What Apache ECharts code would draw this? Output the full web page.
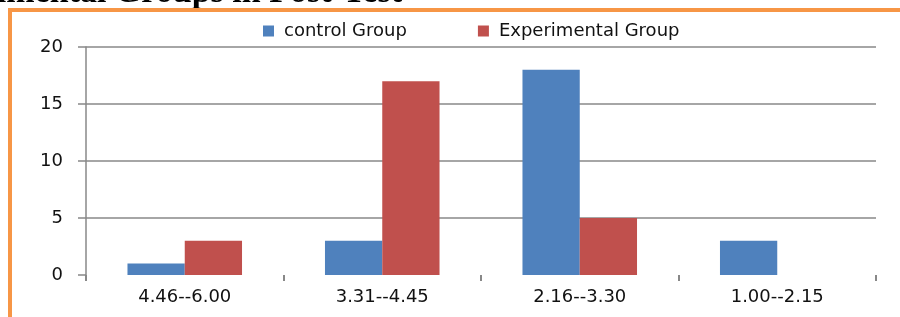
<!DOCTYPE html>
<html>
<head>
<meta charset="utf-8">
<script src="https://cdn.jsdelivr.net/npm/echarts@6/dist/echarts.min.js"></script>
<style>
  html, body { margin: 0; padding: 0; background: #fff; }
  #chart { width: 900px; height: 317px; }
</style>
</head>
<body>
<div id="chart"></div>
<script>
// score ranges (categories)
var categories = ['4.46--6.00', '3.31--4.45', '2.16--3.30', '1.00--2.15'];
// number of students in each range
var controlGroup = [1, 3, 18, 3];
var experimentalGroup = [3, 17, 5, 0];
var yTicks = [0, 5, 10, 15, 20];

var chart = echarts.init(document.getElementById('chart'));

var labelFont = {
  fontFamily: 'DejaVu Sans',
  fontSize: 18,
  color: '#111'
};

var option = {
  animation: false,
  backgroundColor: '#fff',
  color: ['#4F81BD', '#C0504D'],
  legend: {
    left: 263,
    top: 22,
    padding: 0,
    icon: 'rect',
    itemWidth: 11,
    itemHeight: 11,
    itemGap: 71,
    textStyle: {
      fontFamily: 'DejaVu Sans',
      fontSize: 18,
      color: '#111',
      padding: [0, 0, 0, 5]
    },
    data: ['control Group', 'Experimental Group']
  },
  grid: {
    left: 86,
    right: 24,
    top: 47,
    bottom: 42
  },
  xAxis: {
    type: 'category',
    data: categories,
    axisLine: { show: false },
    axisTick: {
      show: true,
      length: 6,
      lineStyle: { color: '#888', width: 2 }
    },
    axisLabel: Object.assign({ margin: 13 }, labelFont)
  },
  yAxis: {
    type: 'value',
    min: yTicks[0],
    max: yTicks[yTicks.length - 1],
    interval: 5,
    axisLine: {
      show: true,
      onZero: false,
      lineStyle: { color: '#888', width: 1.5 }
    },
    axisTick: {
      show: true,
      length: 8,
      lineStyle: { color: '#888', width: 1.5 }
    },
    axisLabel: Object.assign({ margin: 23 }, labelFont),
    splitLine: {
      show: true,
      showMinLine: false,
      lineStyle: { color: '#888', width: 1.5 }
    }
  },
  series: [
    {
      name: 'control Group',
      type: 'bar',
      data: controlGroup,
      barGap: '0%',
      barCategoryGap: '42%'
    },
    {
      name: 'Experimental Group',
      type: 'bar',
      data: experimentalGroup,
      barGap: '0%',
      barCategoryGap: '42%'
    }
  ],
  graphic: [
    // cut-off caption above the figure
    {
      type: 'text',
      x: 402,
      y: 10,
      style: {
        text: 'Table: Control and Experimental Groups in Post-Test',
        font: 'bold 34px "Liberation Serif"',
        fill: '#000',
        align: 'right',
        verticalAlign: 'bottom'
      }
    },
    // orange frame (top and left edges)
    {
      type: 'rect',
      shape: { x: 8, y: 8, width: 900, height: 4 },
      style: { fill: '#F79646' }
    },
    {
      type: 'rect',
      shape: { x: 8, y: 8, width: 4, height: 320 },
      style: { fill: '#F79646' }
    }
  ]
};

chart.setOption(option);
</script>
</body>
</html>
